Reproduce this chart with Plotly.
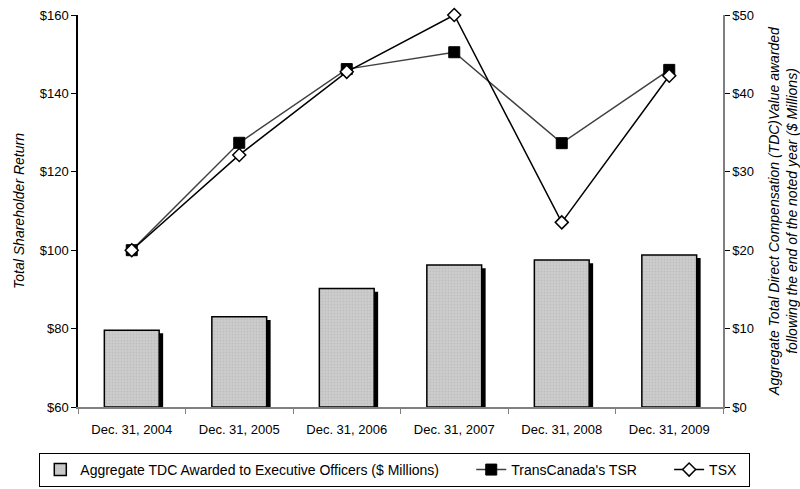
import plotly.graph_objects as go

categories = ["Dec. 31, 2004", "Dec. 31, 2005", "Dec. 31, 2006",
              "Dec. 31, 2007", "Dec. 31, 2008", "Dec. 31, 2009"]
tdc_millions = [9.8, 11.5, 15.1, 18.1, 18.75, 19.4]
transcanada_tsr = [100, 127.4, 146.2, 150.5, 127.3, 146.0]
tsx = [100, 124.3, 145.5, 160, 107.1, 144.5]
left_ticks = [60, 80, 100, 120, 140, 160]
right_ticks = [0, 10, 20, 30, 40, 50]

FONT = "Liberation Sans, Arial, sans-serif"
NB = "\u00a0"
bar_w = 0.51
shadow_dx = 0.037
shadow_dy = 0.4

fig = go.Figure()

# bar shadow
fig.add_trace(go.Bar(
    x=categories, y=[v - shadow_dy for v in tdc_millions],
    width=bar_w, offset=-bar_w / 2 + shadow_dx,
    marker=dict(color="black", line=dict(color="black", width=0)),
    showlegend=False, hoverinfo="skip", yaxis="y"))

fig.add_trace(go.Bar(
    x=categories, y=tdc_millions,
    width=bar_w, offset=-bar_w / 2,
    name="Aggregate TDC Awarded to Executive Officers ($ Millions)" + NB * 7,
    marker=dict(color="#c4c4c4", line=dict(color="black", width=1.5),
                pattern=dict(shape=".", fgcolor="#b0b0b0", bgcolor="#cccccc", size=3, solidity=0.3)),
    yaxis="y"))

fig.add_trace(go.Scatter(
    x=categories, y=transcanada_tsr, mode="lines+markers",
    name="TransCanada's TSR" + NB * 7,
    line=dict(color="#404040", width=1.5),
    marker=dict(symbol="square", size=11, color="black", line=dict(color="black", width=1)),
    cliponaxis=False, yaxis="y2"))

fig.add_trace(go.Scatter(
    x=categories, y=tsx, mode="lines+markers",
    name="TSX" + NB * 2,
    line=dict(color="black", width=1.5),
    marker=dict(symbol="diamond", size=10, color="white", line=dict(color="black", width=1.5)),
    cliponaxis=False, yaxis="y2"))

fig.update_layout(
    width=800, height=489,
    margin=dict(l=78, r=77, t=15, b=82, autoexpand=False),
    paper_bgcolor="white", plot_bgcolor="white",
    font=dict(family=FONT, size=13, color="black"),
    barmode="overlay",
    xaxis=dict(
        type="category", showline=True, linecolor="#808080", linewidth=1.5,
        ticks="outside", tickson="boundaries", ticklen=5, tickcolor="#808080",
        ticklabelstandoff=10,
        showgrid=False, tickfont=dict(size=13, family=FONT)),
    yaxis=dict(
        side="right", range=[0, 50], tickmode="array", tickvals=right_ticks,
        ticktext=["$" + str(v) for v in right_ticks],
        showline=True, linecolor="#808080", linewidth=1.5,
        ticks="outside", ticklen=5, tickcolor="black", showgrid=False, zeroline=False,
        title=dict(text="Aggregate Total Direct Compensation (TDC)Value awarded<br>following the end of the noted year ($ Millions)",
                   font=dict(size=14, family=FONT, style="italic"), standoff=22),
        tickfont=dict(size=13, family=FONT)),
    yaxis2=dict(
        side="left", overlaying="y", range=[60, 160], tickmode="array", tickvals=left_ticks,
        ticktext=["$" + str(v) for v in left_ticks],
        showline=True, linecolor="black", linewidth=1.5,
        ticks="outside", ticklen=5, tickcolor="black", showgrid=False, zeroline=False,
        title=dict(text="Total Shareholder Return", font=dict(size=14, family=FONT, style="italic"), standoff=12),
        tickfont=dict(size=13, family=FONT)),
    legend=dict(
        orientation="h", x=-0.06, xanchor="left", y=-0.1173, yanchor="top",
        bordercolor="black", borderwidth=1, font=dict(size=14, family=FONT),
        itemwidth=30, traceorder="normal", tracegroupgap=0),
)

fig.write_html("out.html")
